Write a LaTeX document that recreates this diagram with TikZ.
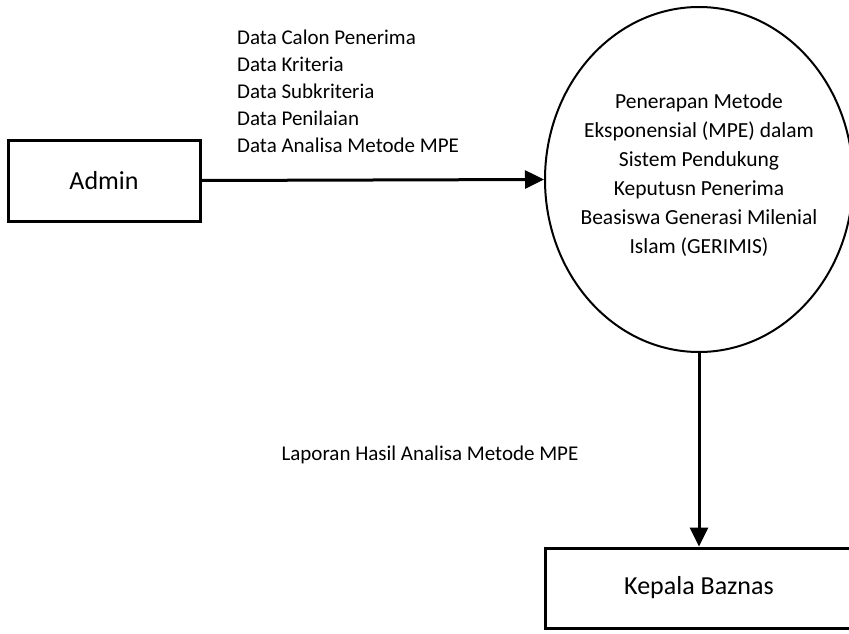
\documentclass[tikz,border=0pt]{standalone}
\usepackage{fontspec}
\setmainfont{Carlito}
\usetikzlibrary{shapes.geometric,arrows.meta}
\begin{document}
\begin{tikzpicture}[x=1pt,y=-1pt,
  boxnode/.style={draw,line width=3pt,rectangle,inner sep=0pt,font=\fontsize{26}{30}\selectfont},
  procnode/.style={draw,line width=2pt,ellipse,inner sep=0pt,align=center,font=\fontsize{21.5}{29}\selectfont},
  flow/.style={line width=3pt,-{Triangle[length=19pt,width=18pt]}},
  lbl/.style={inner sep=0pt,font=\fontsize{21}{27}\selectfont}]
\useasboundingbox (0,0) rectangle (849,634);
\node[boxnode,minimum width=192pt,minimum height=81pt] (admin) at (104,180.5) {Admin};
\node[procnode,minimum width=308pt,minimum height=345pt] (proc) at (699,179.5) {};
\node[inner sep=0pt,align=center,font=\fontsize{21.5}{29}\selectfont] (proctext) at (699,175) {Penerapan Metode\\Eksponensial (MPE) dalam\\Sistem Pendukung\\Keputusn Penerima\\Beasiswa Generasi Milenial\\Islam (GERIMIS)};
\node[boxnode,minimum width=308pt,minimum height=80pt] (kep) at (699,588) {Kepala Baznas};
\draw[flow] (admin.east) -- (proc.west);
\draw[flow] (proc.south) -- (kep.north);
\node[lbl,align=left,anchor=west] (datalbl) at (237,91) {Data Calon Penerima\\Data Kriteria\\Data Subkriteria\\Data Penilaian\\Data Analisa Metode MPE};
\node[lbl] (laplbl) at (430,455) {Laporan Hasil Analisa Metode MPE};
\end{tikzpicture}
\end{document}
